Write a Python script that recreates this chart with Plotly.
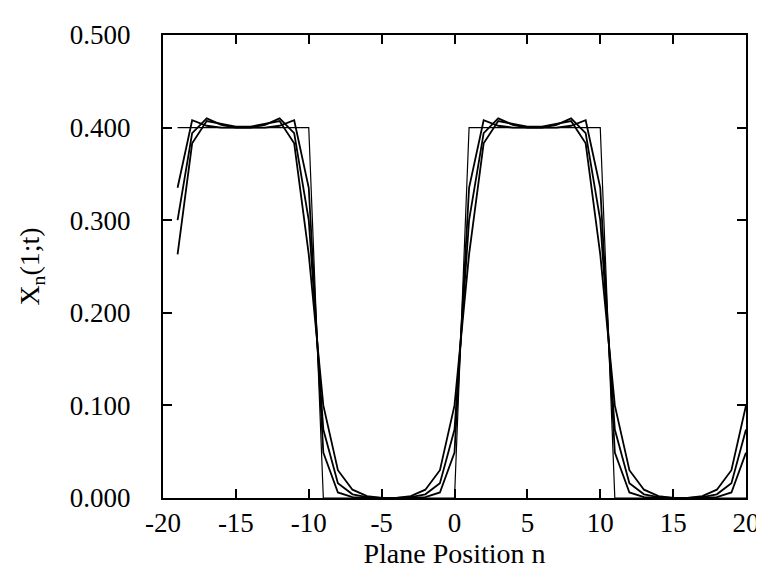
import plotly.graph_objects as go

# Plane positions
plane_n = [-19, -18, -17, -16, -15, -14, -13, -12, -11, -10,
           -9, -8, -7, -6, -5, -4, -3, -2, -1, 0,
           1, 2, 3, 4, 5, 6, 7, 8, 9, 10,
           11, 12, 13, 14, 15, 16, 17, 18, 19, 20]

# Initial square profile
x_initial = [0.4, 0.4, 0.4, 0.4, 0.4, 0.4, 0.4, 0.4, 0.4, 0.4,
             0.0, 0.0, 0.0, 0.0, 0.0, 0.0, 0.0, 0.0, 0.0, 0.0,
             0.4, 0.4, 0.4, 0.4, 0.4, 0.4, 0.4, 0.4, 0.4, 0.4,
             0.0, 0.0, 0.0, 0.0, 0.0, 0.0, 0.0, 0.0, 0.0, 0.0]

# Later profiles (three times)
x_t1 = [0.335, 0.408, 0.402, 0.400, 0.400, 0.400, 0.400, 0.402, 0.408, 0.335,
        0.049, 0.006, 0.001, 0.000, 0.000, 0.000, 0.000, 0.001, 0.006, 0.049,
        0.335, 0.408, 0.402, 0.400, 0.400, 0.400, 0.400, 0.402, 0.408, 0.335,
        0.049, 0.006, 0.001, 0.000, 0.000, 0.000, 0.000, 0.001, 0.006, 0.049]

x_t2 = [0.300, 0.394, 0.410, 0.403, 0.400, 0.400, 0.403, 0.410, 0.394, 0.300,
        0.074, 0.016, 0.004, 0.001, 0.000, 0.000, 0.001, 0.004, 0.016, 0.074,
        0.300, 0.394, 0.410, 0.403, 0.400, 0.400, 0.403, 0.410, 0.394, 0.300,
        0.074, 0.016, 0.004, 0.001, 0.000, 0.000, 0.001, 0.004, 0.016, 0.074]

x_t3 = [0.263, 0.383, 0.407, 0.404, 0.401, 0.401, 0.404, 0.407, 0.383, 0.263,
        0.100, 0.030, 0.009, 0.002, 0.000, 0.000, 0.002, 0.009, 0.030, 0.100,
        0.263, 0.383, 0.407, 0.404, 0.401, 0.401, 0.404, 0.407, 0.383, 0.263,
        0.100, 0.030, 0.009, 0.002, 0.000, 0.000, 0.002, 0.009, 0.030, 0.100]

x_ticks = [-20, -15, -10, -5, 0, 5, 10, 15, 20]
x_tick_labels = ["-20", "-15", "-10", "-5", "0", "5", "10", "15", "20"]
y_ticks = [0.0, 0.1, 0.2, 0.3, 0.4, 0.5]
y_tick_labels = ["0.000", "0.100", "0.200", "0.300", "0.400", "0.500"]

FONT = "Liberation Serif, Times New Roman, serif"

fig = go.Figure()
fig.add_trace(go.Scatter(x=plane_n, y=x_initial, mode="lines",
                         line=dict(color="black", width=1.2), name="t=0"))
for ys in (x_t1, x_t2, x_t3):
    fig.add_trace(go.Scatter(x=plane_n, y=ys, mode="lines",
                             line=dict(color="black", width=1.8)))

axis_common = dict(
    showgrid=False, zeroline=False, showline=True, linecolor="black", linewidth=2,
    mirror="ticks", ticks="inside", tickcolor="black", tickwidth=2, ticklen=9,
    tickfont=dict(family=FONT, size=27, color="black"),
)

fig.update_layout(
    width=764, height=574,
    paper_bgcolor="white", plot_bgcolor="white",
    showlegend=False,
    margin=dict(l=155, r=14, t=19, b=84),
    font=dict(family=FONT, color="black"),
    xaxis=dict(range=[-20, 20], tickvals=x_ticks, ticktext=x_tick_labels,
               ticklabelstandoff=0,
               title=dict(text="Plane Position n", font=dict(family=FONT, size=28), standoff=6),
               **axis_common),
    yaxis=dict(range=[0, 0.5], tickvals=y_ticks, ticktext=y_tick_labels,
               ticklabelstandoff=25,
               title=dict(text="X<sub>n</sub>(1;t)", font=dict(family=FONT, size=28), standoff=22),
               **axis_common),
)

fig.write_html("out.html")
